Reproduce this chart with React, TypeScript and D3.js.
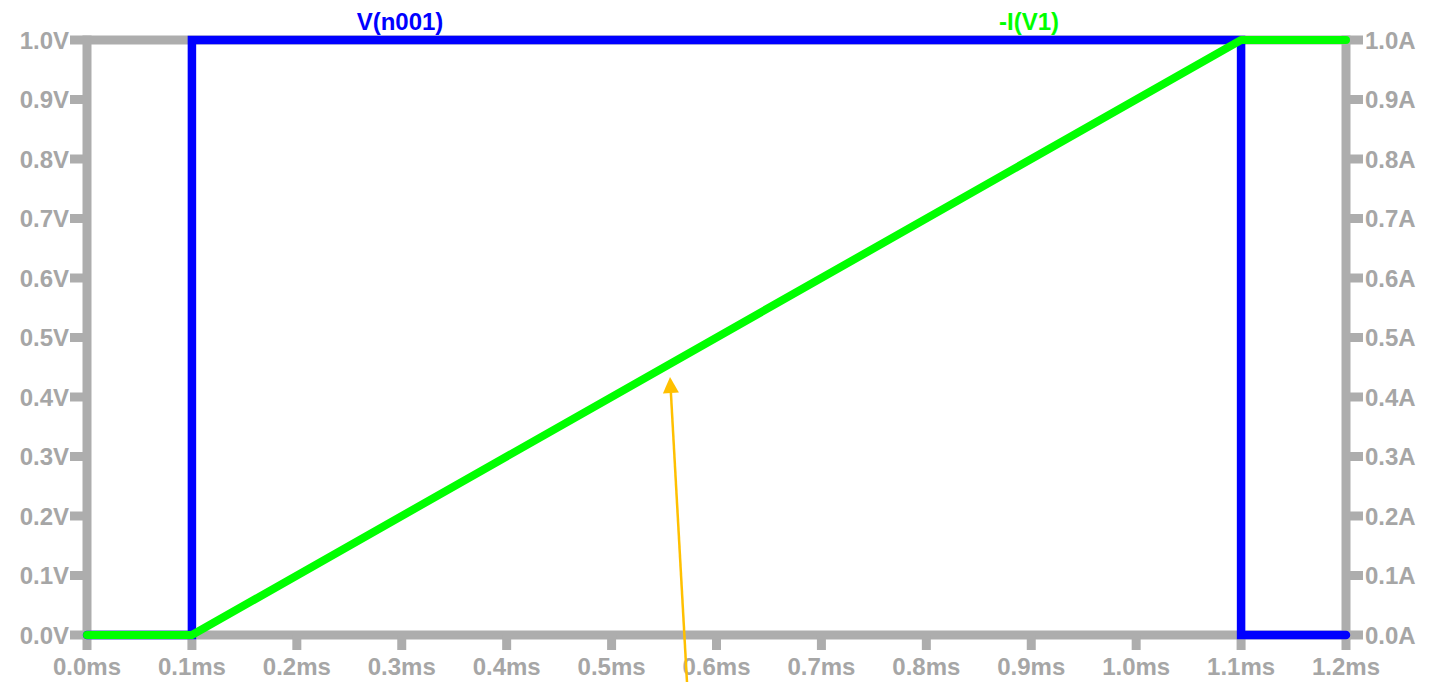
import React from "react";
import * as d3 from "d3";

// Transient waveforms (time in ms)
const timeMs = [0, 0.1, 0.1, 1.1, 1.1, 1.2];
const vN001 = [0, 0, 1, 1, 0, 0];
const currentTime = [0, 0.1, 1.1, 1.2];
const iV1 = [0, 0, 1, 1];

const xTicks = [0, 0.1, 0.2, 0.3, 0.4, 0.5, 0.6, 0.7, 0.8, 0.9, 1.0, 1.1, 1.2];
const yTicks = [0, 0.1, 0.2, 0.3, 0.4, 0.5, 0.6, 0.7, 0.8, 0.9, 1.0];

// Annotation arrow endpoints in data units (ms, V)
const arrowTip = { t: 0.5557, v: 0.4336 };
const arrowTail = { t: 0.5723, v: -0.093 };

const W = 1434;
const H = 682;
const GRAY = "#adadad";
const TEXT_GRAY = "#a6a6a6";
const FONT = "'Liberation Sans', Arial, sans-serif";

export default function App() {
  const x = d3.scaleLinear().domain([0, 1.2]).range([87, 1346]);
  const yV = d3.scaleLinear().domain([0, 1]).range([635, 40]);
  const yA = d3.scaleLinear().domain([0, 1]).range([635, 40]);

  const vLine = d3
    .line<number>()
    .x((_, i) => x(timeMs[i]))
    .y((d) => yV(d));
  const iLine = d3
    .line<number>()
    .x((_, i) => x(currentTime[i]))
    .y((d) => yA(d));

  const [x0, x1] = x.range();
  const [y0, y1] = yV.range();

  // arrowhead geometry
  const tx = x(arrowTip.t);
  const ty = yV(arrowTip.v);
  const sx = x(arrowTail.t);
  const sy = yV(arrowTail.v);
  const len = Math.hypot(tx - sx, ty - sy);
  const ux = (tx - sx) / len;
  const uy = (ty - sy) / len;
  const headL = 16;
  const headW = 8;
  const bx = tx - ux * headL;
  const by = ty - uy * headL;
  const head = [
    [tx, ty],
    [bx - uy * headW, by + ux * headW],
    [bx + uy * headW, by - ux * headW],
  ]
    .map((p) => p.join(","))
    .join(" ");

  return (
    <svg
      width={W}
      height={H}
      style={{ position: "absolute", left: 0, top: 0, background: "#fff" }}
    >
      {/* frame */}
      <g stroke={GRAY} strokeWidth={9} fill="none">
        <line x1={x0} x2={x1} y1={y1} y2={y1} />
        <line x1={x0} x2={x1} y1={y0} y2={y0} />
        <line x1={x0} x2={x0} y1={y1 - 4.5} y2={y0 + 4.5} />
        <line x1={x1} x2={x1} y1={y1 - 4.5} y2={y0 + 4.5} />
      </g>
      {/* x ticks */}
      <g stroke={GRAY} strokeWidth={9}>
        {xTicks.map((t) => (
          <line key={t} x1={x(t)} x2={x(t)} y1={y0} y2={y0 + 15} />
        ))}
        {yTicks.map((v) => (
          <line key={"l" + v} x1={x0 - 17} x2={x0} y1={yV(v)} y2={yV(v)} />
        ))}
        {yTicks.map((v) => (
          <line key={"r" + v} x1={x1} x2={x1 + 17} y1={yA(v)} y2={yA(v)} />
        ))}
      </g>
      <g fill={TEXT_GRAY} fontFamily={FONT} fontWeight="bold" fontSize={24}>
        {xTicks.map((t) => (
          <text key={t} x={x(t)} y={y0 + 40} textAnchor="middle">
            {t.toFixed(1) + "ms"}
          </text>
        ))}
        {yTicks.map((v) => (
          <text key={"l" + v} x={x0 - 18} y={yV(v) + 8.5} textAnchor="end">
            {v.toFixed(1) + "V"}
          </text>
        ))}
        {yTicks.map((v) => (
          <text key={"r" + v} x={x1 + 19} y={yA(v) + 8.5} textAnchor="start">
            {v.toFixed(1) + "A"}
          </text>
        ))}
      </g>
      {/* traces */}
      <path
        d={vLine(vN001) ?? ""}
        fill="none"
        stroke="#0000ff"
        strokeWidth={8.5}
        strokeLinecap="round"
        strokeLinejoin="miter"
      />
      <path
        d={iLine(iV1) ?? ""}
        fill="none"
        stroke="#00ff00"
        strokeWidth={8}
        strokeLinecap="round"
        strokeLinejoin="round"
      />
      {/* trace names */}
      <text
        x={400}
        y={30}
        textAnchor="middle"
        fontFamily={FONT}
        fontWeight="bold"
        fontSize={24}
        fill="#0000ff"
      >
        V(n001)
      </text>
      <text
        x={1029}
        y={30}
        textAnchor="middle"
        fontFamily={FONT}
        fontWeight="bold"
        fontSize={24}
        fill="#00ff00"
      >
        -I(V1)
      </text>
      {/* annotation arrow */}
      <line x1={sx} y1={sy} x2={bx} y2={by} stroke="#ffc000" strokeWidth={2.5} />
      <polygon points={head} fill="#ffc000" />
    </svg>
  );
}
